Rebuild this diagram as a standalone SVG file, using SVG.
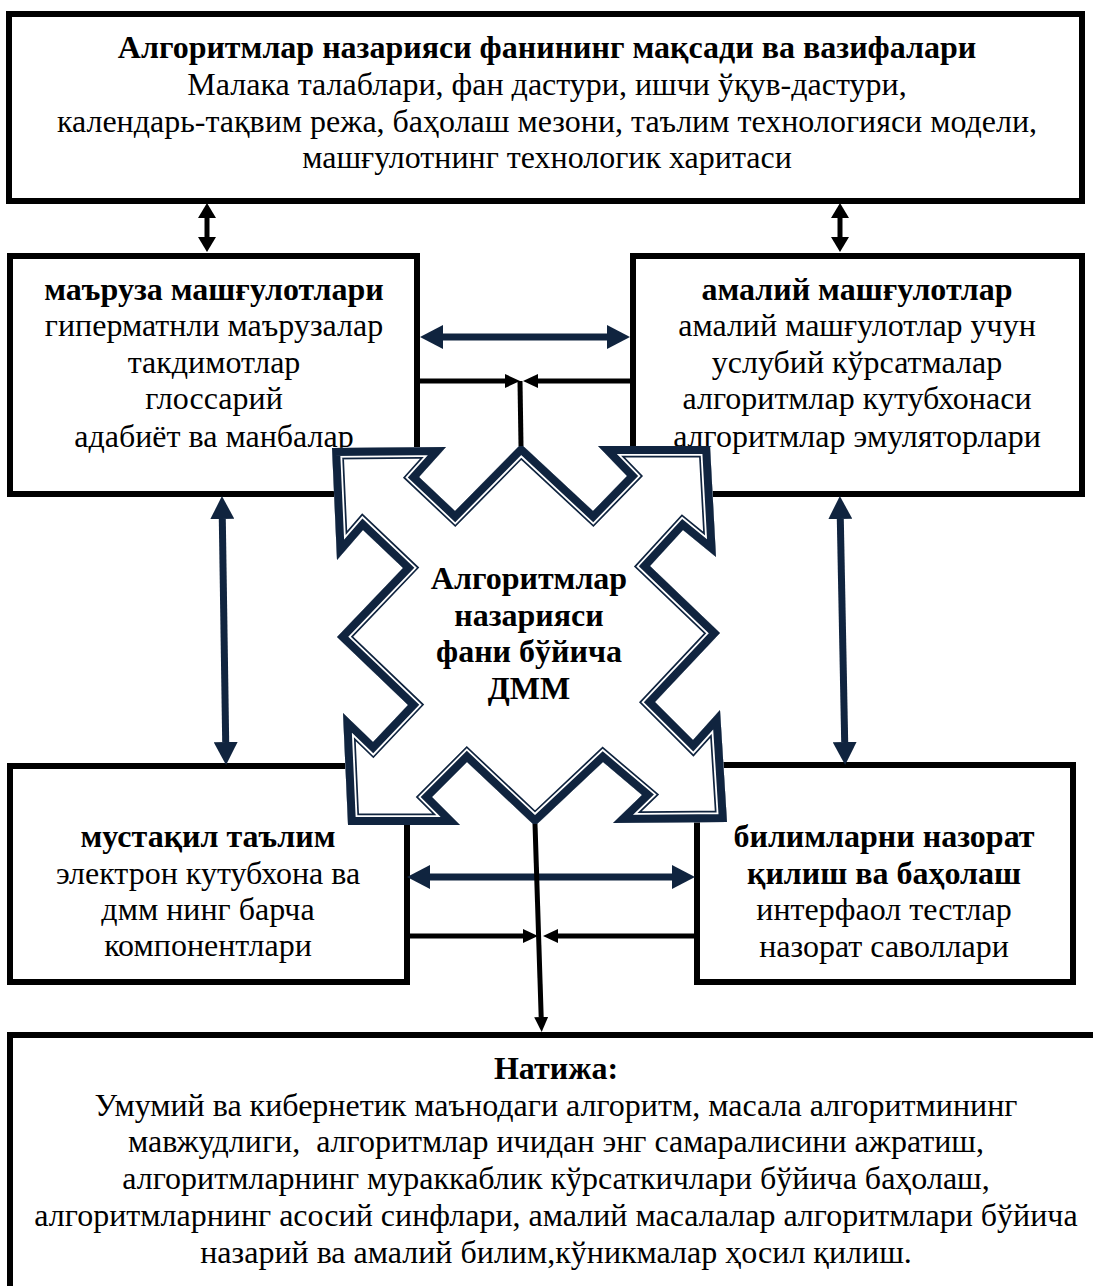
<svg xmlns="http://www.w3.org/2000/svg" width="1093" height="1286" viewBox="0 0 1093 1286">
<style>
.box{fill:#fff;stroke:#000;stroke-width:6}
.t{font-family:"Liberation Serif","Times New Roman",serif;font-size:32px;fill:#000;text-anchor:middle}
.b{font-weight:bold}
.blk{stroke:#000;stroke-width:5;fill:none}
.nv{stroke:#10243f;stroke-width:7;fill:none}
</style>
<defs>
<marker id="ahN" markerUnits="userSpaceOnUse" viewBox="0 0 23 24" markerWidth="23" markerHeight="24" refX="0" refY="12" orient="auto-start-reverse"><path d="M0,0 L23,12 L0,24 Z" fill="#10243f"/></marker>
<marker id="ahB" markerUnits="userSpaceOnUse" viewBox="0 0 15 18" markerWidth="15" markerHeight="18" refX="0" refY="9" orient="auto-start-reverse"><path d="M0,0 L15,9 L0,18 Z" fill="#000"/></marker>
<marker id="ahS" markerUnits="userSpaceOnUse" viewBox="0 0 15 14" markerWidth="15" markerHeight="14" refX="0" refY="7" orient="auto"><path d="M0,0 L15,7 L0,14 Z" fill="#000"/></marker>
<polygon id="starP" points="332,448 446,447 419,477 455,511 521,444 593,511 627,476 598,446 710,446 716,557 683,530 650,566 720,633 655,702 693,740 720,710 727,822 613,823 642,795 603,762 535,826 467,762 432,797 460,825 348,825 343,713 373,742 408,705 337,637 403,568 363,530 337,560"/>
<clipPath id="starClip"><use href="#starP"/></clipPath>
</defs>

<g id="node-top">
<rect class="box" x="9" y="14" width="1073" height="187"/>
<text class="t b" x="547" y="58">Алгоритмлар назарияси фанининг мақсади ва вазифалари</text>
<text class="t" x="547" y="95">Малака талаблари, фан дастури, ишчи ўқув-дастури,</text>
<text class="t" x="547" y="132">календарь-тақвим режа, баҳолаш мезони, таълим технологияси модели,</text>
<text class="t" x="547" y="168">машғулотнинг технологик харитаси</text>
</g>

<g id="node-lecture">
<rect class="box" x="10" y="256" width="407" height="238"/>
<text class="t b" x="214" y="300">маъруза машғулотлари</text>
<text class="t" x="214" y="336">гиперматнли маърузалар</text>
<text class="t" x="214" y="373">такдимотлар</text>
<text class="t" x="214" y="409">глоссарий</text>
<text class="t" x="214" y="447">адабиёт ва манбалар</text>
</g>

<g id="node-practical">
<rect class="box" x="633" y="256" width="449" height="238"/>
<text class="t b" x="857" y="300">амалий машғулотлар</text>
<text class="t" x="857" y="336">амалий машғулотлар учун</text>
<text class="t" x="857" y="373">услубий кўрсатмалар</text>
<text class="t" x="857" y="409">алгоритмлар кутубхонаси</text>
<text class="t" x="857" y="447">алгоритмлар эмуляторлари</text>
</g>

<g id="node-self">
<rect class="box" x="10" y="766" width="397" height="216"/>
<text class="t b" x="208" y="847">мустақил таълим</text>
<text class="t" x="208" y="884">электрон кутубхона ва</text>
<text class="t" x="208" y="920">дмм нинг барча</text>
<text class="t" x="208" y="956">компонентлари</text>
</g>

<g id="node-assessment">
<rect class="box" x="697" y="765" width="376" height="217"/>
<text class="t b" x="884" y="847">билимларни назорат</text>
<text class="t b" x="884" y="884">қилиш ва баҳолаш</text>
<text class="t" x="884" y="920">интерфаол тестлар</text>
<text class="t" x="884" y="957">назорат саволлари</text>
</g>

<g id="node-result">
<rect class="box" x="10" y="1035" width="1100" height="300"/>
<text class="t b" x="556" y="1079">Натижа:</text>
<text class="t" x="556" y="1116">Умумий ва кибернетик маънодаги алгоритм, масала алгоритмининг</text>
<text class="t" x="556" y="1152" xml:space="preserve">мавжудлиги,  алгоритмлар ичидан энг самаралисини ажратиш,</text>
<text class="t" x="556" y="1189">алгоритмларнинг мураккаблик кўрсаткичлари бўйича баҳолаш,</text>
<text class="t" x="556" y="1226">алгоритмларнинг асосий синфлари, амалий масалалар алгоритмлари бўйича</text>
<text class="t" x="556" y="1263">назарий ва амалий билим,кўникмалар ҳосил қилиш.</text>
</g>

<g id="node-center">
<use href="#starP" fill="#fff"/>
<g clip-path="url(#starClip)" fill="none" stroke-linejoin="miter" stroke-miterlimit="10">
<use href="#starP" stroke="#10243f" stroke-width="23"/>
<use href="#starP" stroke="#fff" stroke-width="19.6"/>
<use href="#starP" stroke="#10243f" stroke-width="16"/>
</g>
<text class="t b" x="529" y="589">Алгоритмлар</text>
<text class="t b" x="529" y="626">назарияси</text>
<text class="t b" x="529" y="662">фани бўйича</text>
<text class="t b" x="529" y="699">ДММ</text>
</g>

<g id="connectors">
<line class="blk" x1="207" y1="218" x2="207" y2="237" marker-start="url(#ahB)" marker-end="url(#ahB)"/>
<line class="blk" x1="840" y1="218" x2="840" y2="237" marker-start="url(#ahB)" marker-end="url(#ahB)"/>
<line class="nv" x1="443" y1="337" x2="607" y2="337" marker-start="url(#ahN)" marker-end="url(#ahN)"/>
<line class="nv" x1="430" y1="877" x2="672" y2="877" marker-start="url(#ahN)" marker-end="url(#ahN)"/>
<line class="nv" x1="222.3" y1="519" x2="225.7" y2="742" marker-start="url(#ahN)" marker-end="url(#ahN)"/>
<line class="nv" x1="840.3" y1="519" x2="844.7" y2="742" marker-start="url(#ahN)" marker-end="url(#ahN)"/>
<line class="blk" x1="417" y1="381" x2="505" y2="381" marker-end="url(#ahS)"/>
<line class="blk" x1="633" y1="381" x2="538" y2="381" marker-end="url(#ahS)"/>
<line class="blk" x1="521" y1="446" x2="520" y2="381"/>
<line class="blk" x1="407" y1="936" x2="523" y2="936" marker-end="url(#ahS)"/>
<line class="blk" x1="697" y1="936" x2="558" y2="936" marker-end="url(#ahS)"/>
<line class="blk" x1="535" y1="824" x2="541.2" y2="1017" marker-end="url(#ahS)"/>
</g>
</svg>
